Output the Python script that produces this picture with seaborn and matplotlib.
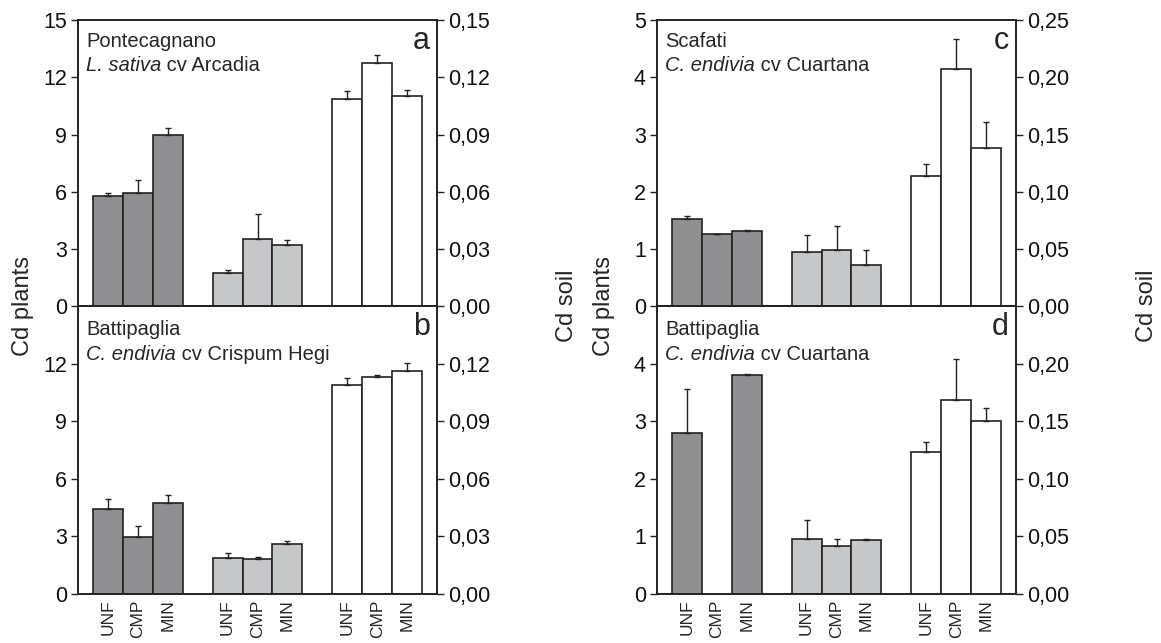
import matplotlib
matplotlib.use('Agg')
import matplotlib.pyplot as plt
import numpy as np
import pandas as pd
import seaborn as sns
from matplotlib.ticker import FuncFormatter

sns.set_style('ticks')
plt.rcParams['font.family'] = ['Liberation Sans', 'DejaVu Sans']

treatments = ['UNF', 'CMP', 'MIN']

# Cd in plants (left axis) - dark group and light group, bar height and top of error bar
a_dark = [5.78, 5.95, 8.99]
a_dark_top = [5.95, 6.62, 9.36]
a_light = [1.76, 3.51, 3.20]
a_light_top = [1.89, 4.85, 3.49]
# Cd in soil (right axis)
a_soil = [0.1088, 0.1273, 0.1102]
a_soil_top = [0.1130, 0.1315, 0.1131]

b_dark = [4.42, 2.96, 4.74]
b_dark_top = [4.95, 3.57, 5.17]
b_light = [1.86, 1.81, 2.61]
b_light_top = [2.16, 1.93, 2.75]
b_soil = [0.1088, 0.1130, 0.1162]
b_soil_top = [0.1125, 0.1142, 0.1205]

c_dark = [1.53, 1.26, 1.32]
c_dark_top = [1.57, 1.27, 1.33]
c_light = [0.94, 0.98, 0.73]
c_light_top = [1.24, 1.40, 0.98]
c_soil = [0.1140, 0.2075, 0.1380]
c_soil_top = [0.1245, 0.2335, 0.1605]

d_dark = [2.79, np.nan, 3.80]
d_dark_top = [3.56, np.nan, 3.82]
d_light = [0.95, 0.84, 0.93]
d_light_top = [1.29, 0.96, 0.96]
d_soil = [0.1235, 0.1685, 0.1500]
d_soil_top = [0.1320, 0.2040, 0.1615]

panel_titles = {
    'a': ('Pontecagnano', 'L. sativa', ' cv Arcadia'),
    'b': ('Battipaglia', 'C. endivia', ' cv Crispum Hegi'),
    'c': ('Scafati', 'C. endivia', ' cv Cuartana'),
    'd': ('Battipaglia', 'C. endivia', ' cv Cuartana'),
}

DARK = '#8e8f93'
LIGHT = '#c6c7c9'
EDGE = '#222222'

pos_dark = [0, 1, 2]
pos_light = [4, 5, 6]
pos_soil = [8, 9, 10]

comma_fmt = FuncFormatter(lambda v, p: f'{v:.2f}'.replace('.', ','))


def draw_panel(ax, letter, dark, dark_top, light, light_top, soil, soil_top,
               ymax, ystep, smax, sstep, top_panel):
    df_pl = pd.DataFrame({
        'pos': pos_dark + pos_light,
        'value': list(dark) + list(light),
        'group': ['dark'] * 3 + ['light'] * 3,
    }).dropna()
    sns.barplot(data=df_pl, x='pos', y='value', hue='group', native_scale=True,
                palette={'dark': DARK, 'light': LIGHT}, width=1, dodge=False,
                errorbar=None, edgecolor=EDGE, linewidth=1.2, legend=False, ax=ax)
    for pos, val, top in [(pos_dark, dark, dark_top), (pos_light, light, light_top)]:
        v = np.array(val, dtype=float)
        t = np.array(top, dtype=float)
        ax.errorbar(pos, v, yerr=[np.zeros(3), t - v], fmt='none', ecolor=EDGE,
                    elinewidth=1, capsize=2.5, capthick=1)

    ax2 = ax.twinx()
    df_s = pd.DataFrame({'pos': pos_soil, 'value': soil})
    sns.barplot(data=df_s, x='pos', y='value', native_scale=True, color='white',
                width=1, errorbar=None, edgecolor=EDGE, linewidth=1.2, ax=ax2)
    s = np.array(soil)
    ax2.errorbar(pos_soil, s, yerr=[np.zeros(3), np.array(soil_top) - s], fmt='none',
                 ecolor=EDGE, elinewidth=1, capsize=2.5, capthick=1)

    ax.set_xlim(-1, 11)
    ax.set_ylim(0, ymax)
    ax2.set_ylim(0, smax)
    n = int(round(ymax / ystep))
    yt = [i * ystep for i in range(n + 1)]
    st = [i * sstep for i in range(n + 1)]
    if not top_panel:
        yt = yt[:-1]
        st = st[:-1]
    ax.set_yticks(yt)
    ax2.set_yticks(st)
    ax2.yaxis.set_major_formatter(comma_fmt)
    ax.set_xlabel('')
    ax.set_ylabel('')
    ax2.set_xlabel('')
    ax2.set_ylabel('')

    for a in (ax, ax2):
        for sp in a.spines.values():
            sp.set_visible(True)
            sp.set_linewidth(1.2)
            sp.set_color(EDGE)
        a.tick_params(axis='y', direction='out', length=5, width=1, color=EDGE,
                      labelsize=15.5, pad=3, labelcolor='#111111')

    ax.set_xticks(pos_dark + pos_light + pos_soil)
    if top_panel:
        ax.set_xticklabels([])
    else:
        ax.set_xticklabels(treatments * 3, rotation=90, fontsize=12.5)
    ax.tick_params(axis='x', length=0, pad=4)

    loc, sp_name, cv = panel_titles[letter]
    base1 = -19.5 if top_panel else -20.5
    base2 = -36.5 if top_panel else -38.5
    ax.annotate(loc, xy=(0, 1), xycoords='axes fraction', xytext=(5.8, base1),
                textcoords='offset points', va='baseline', ha='left', fontsize=14.5)
    t1 = ax.annotate(sp_name, xy=(0, 1), xycoords='axes fraction', xytext=(5.8, base2),
                     textcoords='offset points', va='baseline', ha='left',
                     fontsize=14.5, style='italic')
    ax.annotate(cv, xy=(1, 0), xycoords=t1, va='bottom', ha='left', fontsize=14.5)
    ax.annotate(letter, xy=(1, 1), xycoords='axes fraction', xytext=(-5, -21),
                textcoords='offset points', va='baseline', ha='right', fontsize=22)


fig = plt.figure(figsize=(11.61, 6.43), dpi=100)
W, H = 1161, 643
w = 359 / W
top = 1 - 20 / H
mid = 1 - 306.3 / H
bot = 1 - 594 / H

ax_a = fig.add_axes([78 / W, mid, w, top - mid])
ax_b = fig.add_axes([78 / W, bot, w, mid - bot])
ax_c = fig.add_axes([657 / W, mid, w, top - mid])
ax_d = fig.add_axes([657 / W, bot, w, mid - bot])

draw_panel(ax_a, 'a', a_dark, a_dark_top, a_light, a_light_top, a_soil, a_soil_top,
           15, 3, 0.15, 0.03, True)
draw_panel(ax_b, 'b', b_dark, b_dark_top, b_light, b_light_top, b_soil, b_soil_top,
           15, 3, 0.15, 0.03, False)
draw_panel(ax_c, 'c', c_dark, c_dark_top, c_light, c_light_top, c_soil, c_soil_top,
           5, 1, 0.25, 0.05, True)
draw_panel(ax_d, 'd', d_dark, d_dark_top, d_light, d_light_top, d_soil, d_soil_top,
           5, 1, 0.25, 0.05, False)

ymid = 1 - 306 / H
fig.text(23 / W, ymid, 'Cd plants', rotation=90, ha='center', va='center', fontsize=17)
fig.text(567 / W, ymid, 'Cd soil', rotation=90, ha='center', va='center', fontsize=17)
fig.text(604 / W, ymid, 'Cd plants', rotation=90, ha='center', va='center', fontsize=17)
fig.text(1147 / W, ymid, 'Cd soil', rotation=90, ha='center', va='center', fontsize=17)

fig.savefig('out.png', dpi=100)
